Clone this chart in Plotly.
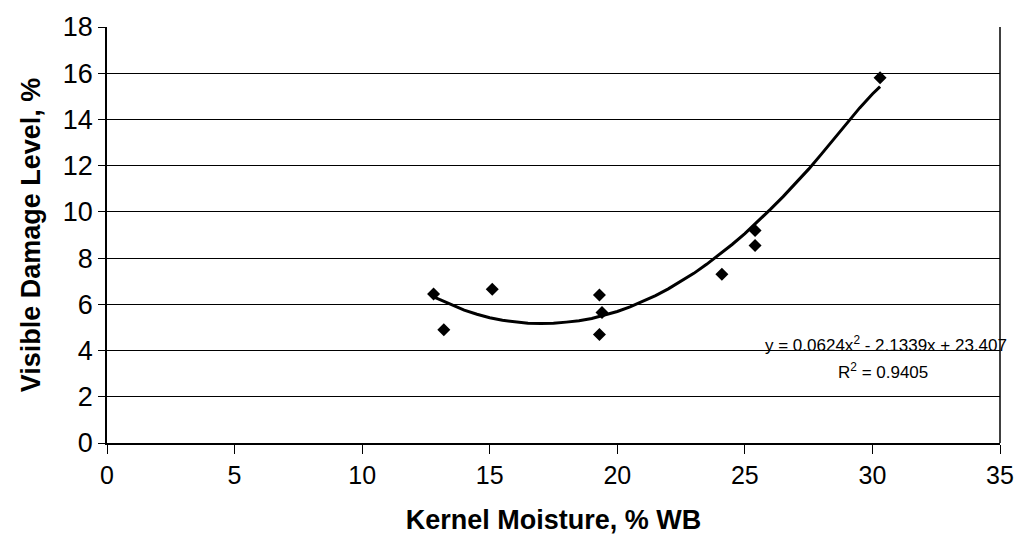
import plotly.graph_objects as go

# Measured data points
moisture = [12.8, 13.2, 15.1, 19.3, 19.4, 19.3, 24.1, 25.4, 25.4, 30.3]
damage = [6.45, 4.9, 6.65, 6.4, 5.65, 4.7, 7.3, 9.2, 8.55, 15.8]

# Trend line
trend_x = [12.8, 13.5, 14, 14.5, 15, 15.5, 16, 16.5, 17, 17.5, 18, 18.5, 19, 19.5, 20,
           20.5, 21, 21.5, 22, 22.5, 23, 23.5, 24, 24.5, 25, 25.5, 26, 26.5, 27,
           27.5, 28, 28.5, 29, 29.5, 30, 30.3]
trend_y = [6.32, 5.97, 5.75, 5.57, 5.42, 5.31, 5.23, 5.18, 5.17, 5.18, 5.23, 5.29, 5.39,
           5.53, 5.69, 5.89, 6.12, 6.38, 6.67, 6.99, 7.34, 7.73, 8.14, 8.59, 9.06, 9.57,
           10.11, 10.66, 11.24, 11.85, 12.5, 13.17, 13.84, 14.5, 15.1, 15.42]

x_ticks = [0, 5, 10, 15, 20, 25, 30, 35]
y_ticks = [0, 2, 4, 6, 8, 10, 12, 14, 16, 18]

eq_text = "y = 0.0624x<sup>2</sup> - 2.1339x + 23.407"
r2_text = "R<sup>2</sup> = 0.9405"

FONT = "Liberation Sans, Arial, Helvetica, sans-serif"

fig = go.Figure()
fig.add_trace(go.Scatter(x=trend_x, y=trend_y, mode="lines",
                         line=dict(color="black", width=3, shape="linear"),
                         hoverinfo="skip", showlegend=False))
fig.add_trace(go.Scatter(x=moisture, y=damage, mode="markers",
                         marker=dict(symbol="diamond", color="black", size=10),
                         showlegend=False))

fig.add_annotation(x=1.01, y=4.3, xref="paper", yref="y", xanchor="right", yanchor="middle",
                   text=eq_text, showarrow=False,
                   font=dict(family=FONT, size=17, color="black"))
fig.add_annotation(x=30.4, y=3.1, xref="x", yref="y", xanchor="center", yanchor="middle",
                   text=r2_text, showarrow=False,
                   font=dict(family=FONT, size=17, color="black"))

fig.update_layout(
    width=1026, height=553,
    margin=dict(l=107, r=23, t=18, b=110),
    paper_bgcolor="white", plot_bgcolor="white",
    font=dict(family=FONT, color="black"),
    xaxis=dict(range=[0, 35], tickvals=x_ticks, ticks="outside", ticklen=9,
               tickcolor="black", showline=True, linecolor="black", linewidth=1.5,
               mirror=False, showgrid=False, zeroline=False,
               tickfont=dict(size=25),
               title=dict(text="<b>Kernel Moisture, % WB</b>", font=dict(size=27), standoff=22)),
    yaxis=dict(range=[0, 18], tickvals=y_ticks, ticks="outside", ticklen=7,
               tickcolor="black", showline=True, linecolor="black", linewidth=1.5,
               showgrid=True, gridcolor="black", gridwidth=1, zeroline=False,
               tickfont=dict(size=27),
               title=dict(text="<b>Visible Damage Level, %</b>", font=dict(size=27), standoff=14)),
)
# right border line of the plot area
fig.add_shape(type="line", xref="paper", yref="paper", x0=1, x1=1, y0=0, y1=1,
              line=dict(color="black", width=1.5))

fig.write_html("out.html")
